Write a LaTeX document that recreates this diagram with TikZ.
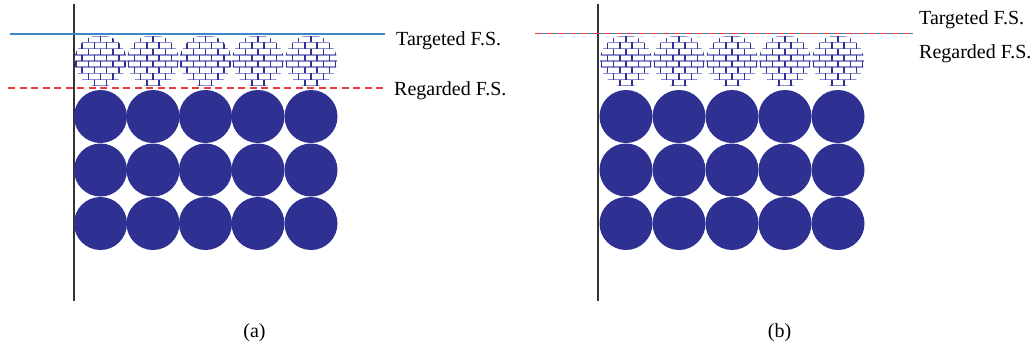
\documentclass[tikz,border=0pt]{standalone}
\usepackage{fontspec}
\setmainfont{Liberation Serif}

\definecolor{ballblue}{RGB}{46,49,146}
\definecolor{mortar}{RGB}{140,142,205}
\definecolor{fsblue}{RGB}{60,135,200}
\definecolor{fsred}{RGB}{232,60,60}

\tikzset{
  wall/.style={line width=1.3pt, draw=black!80},
  solidball/.style={fill=ballblue},
  targetedline/.style={line width=1.3pt, draw=fsblue},
  regardedline/.style={line width=1.4pt, draw=fsred, dash pattern=on 7pt off 4.5pt},
  fslabel/.style={anchor=base west, inner sep=0pt, font=\fontsize{20}{24}\selectfont},
  panelcap/.style={anchor=base, inner sep=0pt, font=\fontsize{20}{24}\selectfont},
}

% brick-hatched sphere: #1 = centre x, #2 = centre y
\newcommand\brickball[2]{%
  \begin{scope}
    \clip (#1,#2) circle[radius=26];
    \foreach \k in {-4,...,4}
      \draw[mortar, line width=1.6pt] (#1-30,#2+\k*6.17) -- (#1+30,#2+\k*6.17);
    \foreach \k in {-4,...,3} {
      \pgfmathsetmacro\off{6.15*mod(\k+4,2)}
      \foreach \j in {-3,...,3}
        \draw[ballblue, line width=1.4pt] (#1+\j*12.3+\off,#2+\k*6.17) -- ++(0,6.17);
    }
  \end{scope}}

\begin{document}
\begin{tikzpicture}[x=1pt,y=-1pt]
  \useasboundingbox (0,0) rectangle (1035,351);

  % ---------- panel (a) ----------
  \draw[wall] (74,4) -- (74,301);
  \foreach \cx in {100.5,153,205.5,258,311} {
    \foreach \cy in {116.5,170,223.5}
      \fill[solidball] (\cx,\cy) circle[radius=26.5];
    \brickball{\cx}{61}
  }
  \coordinate (ta0) at (10,34);  \coordinate (ta1) at (385,34);
  \coordinate (ra0) at (8,88);   \coordinate (ra1) at (385,88);
  \draw[targetedline] (ta0) -- (ta1);
  \draw[regardedline] (ra0) -- (ra1);
  \node[fslabel] (tlabA) at (396,45) {Targeted F.S.};
  \node[fslabel] (rlabA) at (394,95) {Regarded F.S.};
  \node[panelcap] (capA) at (254.5,337) {(a)};

  % ---------- panel (b) ----------
  \draw[wall] (598,4) -- (598,301);
  \foreach \cx in {626,679,732,785,838} {
    \foreach \cy in {116.5,170,223.5}
      \fill[solidball] (\cx,\cy) circle[radius=26.5];
    \brickball{\cx}{61}
  }
  \coordinate (tb0) at (535,33.5); \coordinate (tb1) at (913,33.5);
  \draw[targetedline] (tb0) -- (tb1);
  \draw[regardedline] (tb0) -- (tb1);
  \node[fslabel] (tlabB) at (919,24) {Targeted F.S.};
  \node[fslabel] (rlabB) at (919,58) {Regarded F.S.};
  \node[panelcap] (capB) at (779.5,337) {(b)};
\end{tikzpicture}
\end{document}
